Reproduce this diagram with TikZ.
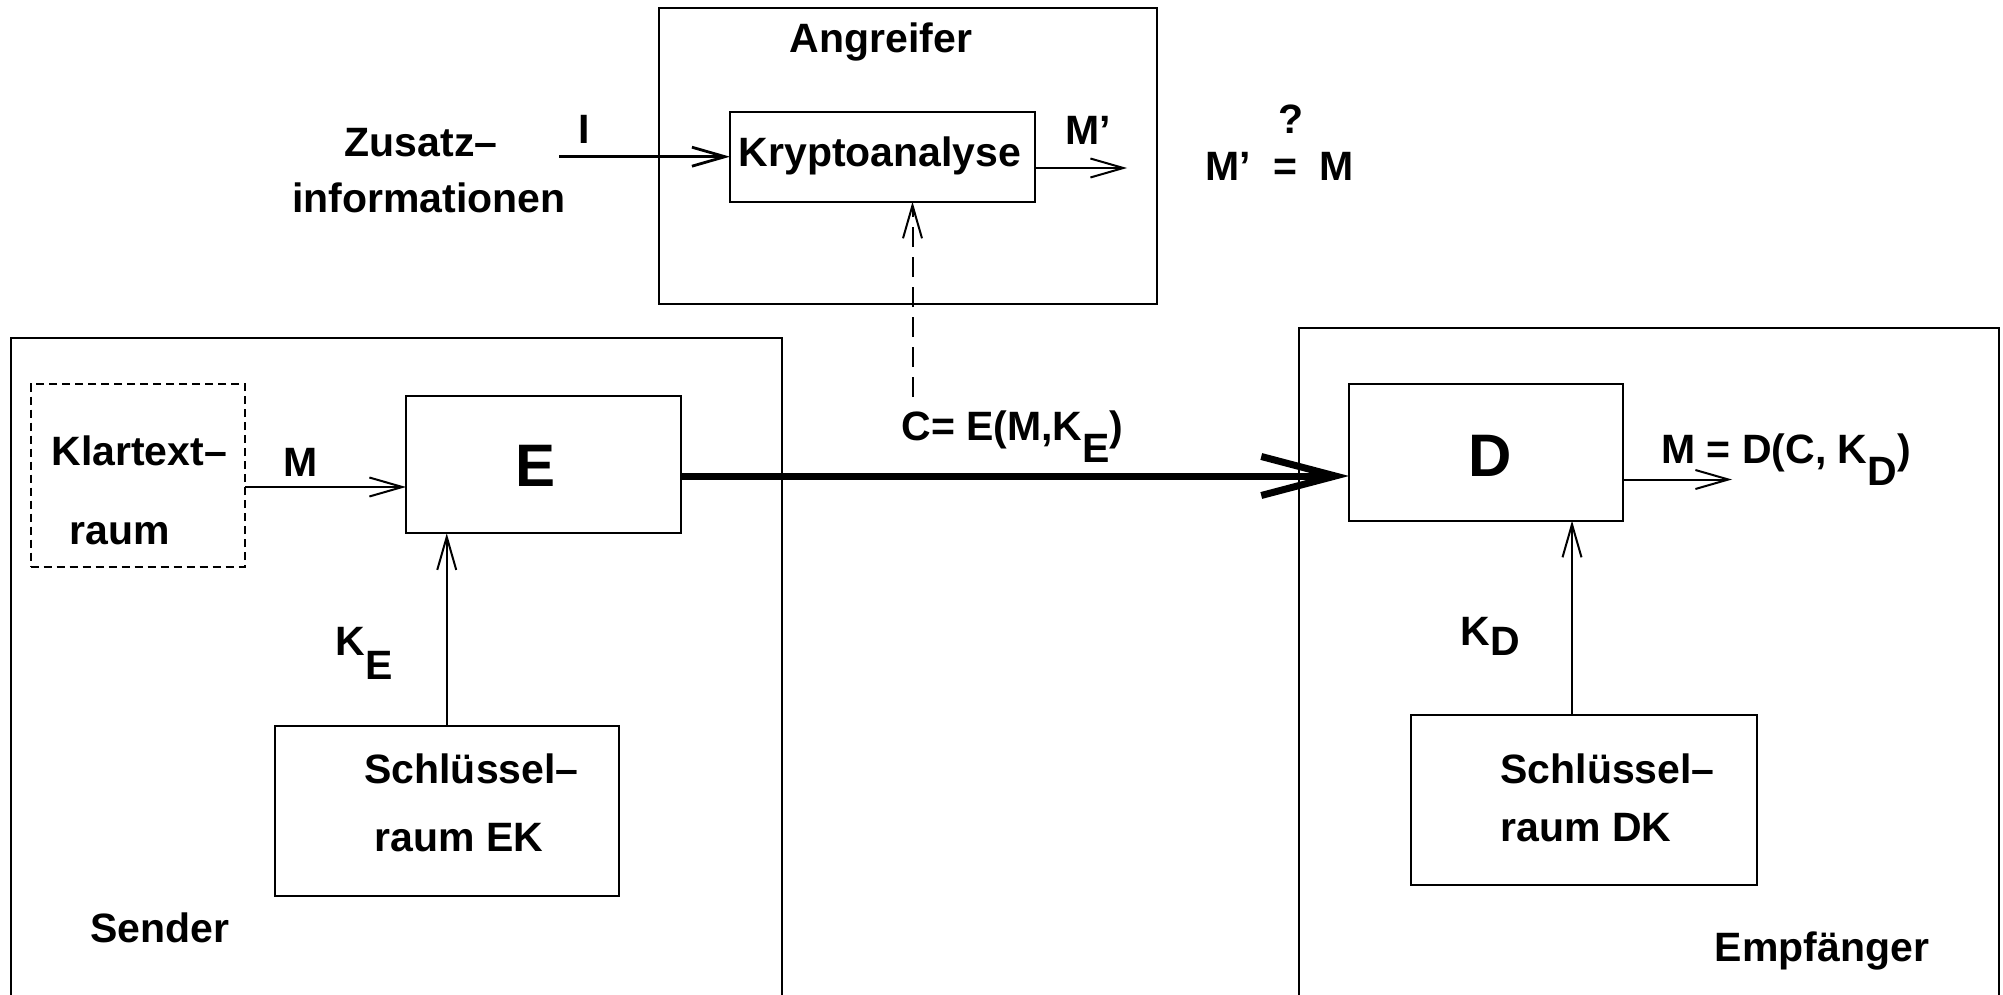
\documentclass[tikz,border=0pt]{standalone}
\usepackage{fontspec}
\setmainfont{Liberation Sans}
\usetikzlibrary{arrows.meta}

\begin{document}
\begin{tikzpicture}[x=0.5pt, y=-0.5pt,
  lbl/.style={inner sep=0pt, font=\fontsize{20.5}{24}\selectfont\bfseries},
  big/.style={inner sep=0pt, font=\fontsize{30}{36}\selectfont\bfseries},
  box/.style={draw, line width=1pt, inner sep=0pt, outer sep=0pt},
  dbox/.style={box, dash pattern=on 4pt off 2.5pt},
  frame/.style={draw, line width=1pt},
  arr/.style={line width=1pt, -{Straight Barb[length=16.5pt,width=9.5pt]}},
  darr/.style={arr, dash pattern=on 10pt off 5pt},
  thick arr/.style={line width=3.5pt, -{Straight Barb[length=37pt,width=19.5pt]}}]

\useasboundingbox (0,0) rectangle (2003,995);

% outer frames: attacker, sender, receiver
\node[box, minimum width=249pt, minimum height=147.9pt] (ang) at (908,156.4) {};
\draw[frame] (11,1010) -- (11,338) -- (781.7,338) -- (781.7,1010);
\draw[frame] (1298.5,1010) -- (1298.5,328) -- (1998.5,328) -- (1998.5,1010);

% functional blocks
\node[box, minimum width=152.25pt, minimum height=45pt] (kry) at (882.25,156.7) {};
\node[dbox, minimum width=107.2pt, minimum height=91.3pt] (kt) at (137.8,475.3) {};
\node[box, minimum width=137.35pt, minimum height=68.65pt] (E) at (543.35,464.65) {};
\node[box, minimum width=172.25pt, minimum height=85.15pt] (ek) at (446.75,810.85) {};
\node[box, minimum width=136.85pt, minimum height=68.35pt] (D) at (1485.85,452.35) {};
\node[box, minimum width=173.2pt, minimum height=85pt] (dk) at (1583.8,800) {};

% labels
\node[lbl, anchor=base] (tang) at (881,53) {Angreifer};
\node[lbl, anchor=base] (tzus) at (421,156.7) {Zusatz–};
\node[lbl, anchor=base] (tinf) at (429,213) {informationen};
\node[lbl, anchor=base] (tI) at (584,143.3) {I};
\node[lbl, anchor=base] (tkry) at (880,166.7) {Kryptoanalyse};
\node[lbl, anchor=base west] (tmp) at (1065,145) {M’};
\node[lbl, anchor=base] (tq) at (1291,133.3) {?};
\node[lbl, anchor=base west] (tmp2) at (1205,180) {M’};
\node[lbl, anchor=base] (teq) at (1285.5,180) {=};
\node[lbl, anchor=base west] (tm2) at (1319,180) {M};

\node[lbl, anchor=base west] (tkt1) at (51,465.7) {Klartext–};
\node[lbl, anchor=base west] (tkt2) at (69,544) {raum};
\node[lbl, anchor=base] (tM) at (301,476) {M};
\node[big, anchor=base] (tE) at (535.3,486.7) {E};
\node[lbl, anchor=base west] (tKE) at (335,655) {K\raisebox{-12pt}{E}};
\node[lbl, anchor=base west] (tek1) at (364,783.8) {Schlüssel–};
\node[lbl, anchor=base west] (tek2) at (374.5,851.6) {raum EK};
\node[lbl, anchor=base] (tsend) at (160,942.8) {Sender};

\node[lbl, anchor=base west] (tC) at (901,440) {C= E(M,K\raisebox{-11pt}{E})};

\node[big, anchor=base] (tD) at (1490,476) {D};
\node[lbl, anchor=base west] (tMD) at (1661,463) {M = D(C, K\raisebox{-11pt}{D})};
\node[lbl, anchor=base west] (tKD) at (1460,645) {K\raisebox{-5pt}{D}};
\node[lbl, anchor=base west] (tdk1) at (1500,783) {Schlüssel–};
\node[lbl, anchor=base west] (tdk2) at (1500,841) {raum DK};
\node[lbl, anchor=base] (temp) at (1822,961) {Empfänger};

% helper coordinates for connector rows and columns
\coordinate (zstart) at (559,156.7);
\coordinate (mprow) at (0,168);
\coordinate (mpout) at (1127,168);
\coordinate (cdash) at (912.5,397);
\coordinate (mrow) at (0,487);
\coordinate (trow) at (0,476);
\coordinate (drow) at (0,479.5);
\coordinate (dout) at (1732,479.5);
\coordinate (kdx) at (1572,0);

% connectors
\draw[arr, line width=1.4pt] (zstart) -- (kry.west);
\draw[arr] (kry.east |- mprow) -- (mpout);
\draw[darr] (cdash) -- (kry.south -| cdash);
\draw[arr] (kt.east |- mrow) -- (E.west |- mrow);
\draw[arr] (ek.north) -- (E.south -| ek.north);
\draw[thick arr] (E.east |- trow) -- (D.west |- trow);
\draw[arr] (D.east |- drow) -- (dout);
\draw[arr] (dk.north -| kdx) -- (D.south -| kdx);

\end{tikzpicture}
\end{document}
